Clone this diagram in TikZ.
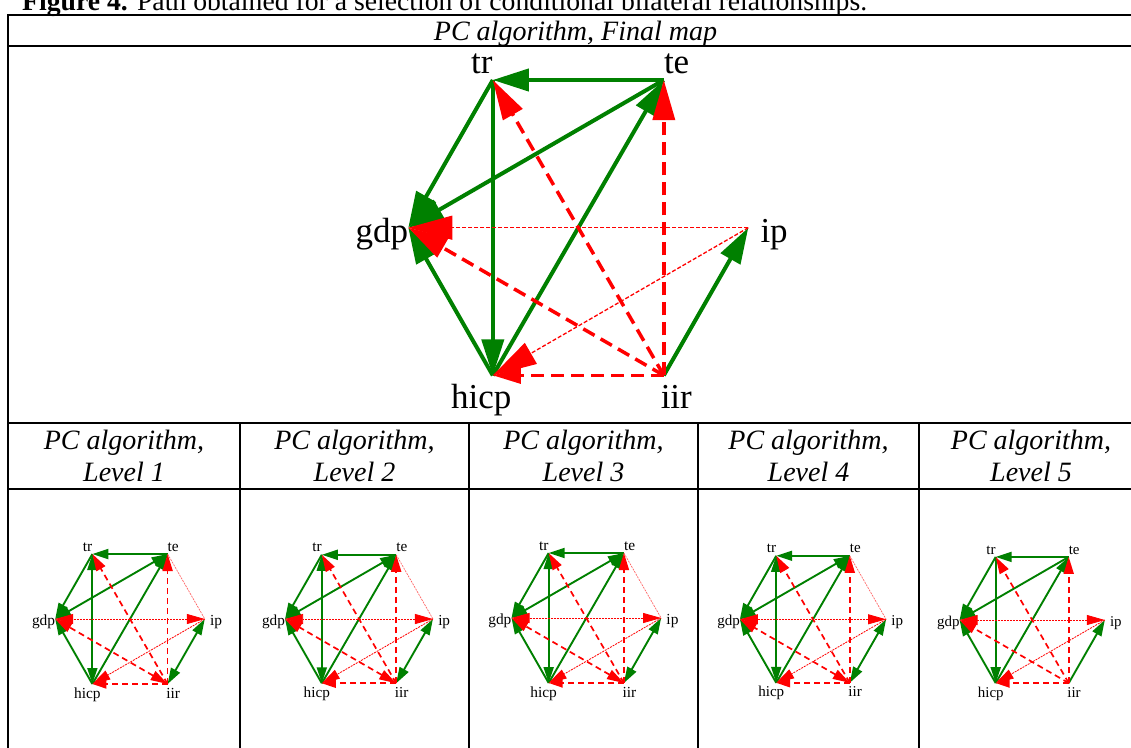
\documentclass[tikz,border=0pt]{standalone}
\usepackage{fontspec}
\setmainfont{Liberation Serif}
\usetikzlibrary{arrows.meta}
\definecolor{pcgreen}{RGB}{0,128,0}
\definecolor{pcred}{RGB}{255,0,0}
\newcommand{\pcnodes}{%
  \coordinate (gdp) at (-170,0);
  \coordinate (tr) at (-85.5,-147.7);
  \coordinate (te) at (85.5,-147.7);
  \coordinate (ip) at (170,0);
  \coordinate (hicp) at (-85.5,147.7);
  \coordinate (iir) at (85.5,147.7);
  \node[lab, anchor=base east] (gdp-l) at (-170,14.3) {gdp};
  \node[lab, anchor=base east] (tr-l) at (-85.5,-154.5) {tr};
  \node[lab, anchor=base west] (te-l) at (85.5,-154.5) {te};
  \node[lab, anchor=base west] (ip-l) at (182,14.3) {ip};
  \node[lab, anchor=base] (hicp-l) at (-97,180.5) {hicp};
  \node[lab, anchor=base] (iir-l) at (98,180.5) {iir};
}
\newcommand{\levelfour}{%
  \draw[ga] (te) -- (tr);
  \draw[ga] (tr) -- (gdp);
  \draw[gb] (te) -- (gdp);
  \draw[gb] (tr) -- (hicp);
  \draw[ga] (hicp) -- (te);
  \draw[ga] (hicp) -- (gdp);
  \draw[gb] (iir) -- (ip);
  \draw[tn] (te) -- (ip);
  \draw[ra] (iir) -- (tr);
  \draw[ra] (iir) -- (te);
  \draw[rb] (iir) -- (gdp);
  \draw[rs] (iir) -- (hicp);
  \draw[tb] (ip) -- (gdp);
  \draw[ta] (ip) -- (hicp);
}
\newcommand{\levelfive}[1]{%
  \draw[ga] (te) -- (tr);
  \draw[ga] (tr) -- (gdp);
  \draw[ga] (te) -- (gdp);
  \draw[ga] (tr) -- (hicp);
  \draw[ga] (hicp) -- (te);
  \draw[ga] (hicp) -- (gdp);
  \draw[ga] (iir) -- (ip);
  \draw[ra] (iir) -- (tr);
  \draw[ra] (iir) -- (te);
  \draw[ra] (iir) -- (gdp);
  \draw[rs] (iir) -- (hicp);
  \draw[#1] (ip) -- (gdp);
  \draw[ta] (ip) -- (hicp);
}
\tikzset{
  tline/.style={line width=2.6pt, line cap=rect},
  hdr/.style={font=\fontsize{28}{32}\selectfont\itshape, inner sep=0pt, anchor=base},
  bigset/.style={
    ga/.style={draw=pcgreen, line width=4pt, -{Triangle[length=36pt,width=22pt]}},
    gb/.style={draw=pcgreen, line width=4pt, {Triangle[length=36pt,width=22pt]}-{Triangle[length=36pt,width=22pt]}},
    ra/.style={draw=pcred, line width=3.5pt, dash pattern=on 13pt off 7pt, -{Triangle[length=40pt,width=22pt]}},
    rs/.style={draw=pcred, line width=3.5pt, dash pattern=on 13pt off 7pt, -{Triangle[length=28pt,width=16pt]}},
    rb/.style={draw=pcred, line width=3.5pt, dash pattern=on 13pt off 7pt, {Triangle[length=40pt,width=22pt]}-{Triangle[length=40pt,width=22pt]}},
    ta/.style={draw=pcred, line width=1.3pt, dash pattern=on 4pt off 2pt, -{Triangle[length=44pt,width=24pt]}},
    tb/.style={draw=pcred, line width=1.3pt, dash pattern=on 4pt off 2pt, {Triangle[length=44pt,width=24pt]}-{Triangle[length=44pt,width=24pt]}},
    tn/.style={draw=pcred, line width=1.2pt, dash pattern=on 4pt off 2pt},
    lab/.style={font=\fontsize{35}{40}\selectfont, inner sep=0pt, transform shape}
  },
  smallset/.style={
    ga/.style={draw=pcgreen, line width=1.9pt, -{Triangle[length=16pt,width=10pt]}},
    gb/.style={draw=pcgreen, line width=1.9pt, {Triangle[length=16pt,width=10pt]}-{Triangle[length=16pt,width=10pt]}},
    ra/.style={draw=pcred, line width=1.7pt, dash pattern=on 6pt off 4pt, -{Triangle[length=17pt,width=10pt]}},
    rs/.style={draw=pcred, line width=1.7pt, dash pattern=on 6pt off 4pt, -{Triangle[length=14pt,width=9pt]}},
    rb/.style={draw=pcred, line width=1.7pt, dash pattern=on 6pt off 4pt, {Triangle[length=17pt,width=10pt]}-{Triangle[length=17pt,width=10pt]}},
    ta/.style={draw=pcred, line width=0.8pt, dash pattern=on 2pt off 1pt, -{Triangle[length=18pt,width=10pt]}},
    tb/.style={draw=pcred, line width=0.8pt, dash pattern=on 2pt off 1pt, {Triangle[length=18pt,width=10pt]}-{Triangle[length=18pt,width=10pt]}},
    tn/.style={draw=pcred!60, line width=0.7pt, dash pattern=on 2pt off 1pt},
    lab/.style={font=\fontsize{35}{40}\selectfont, inner sep=0pt, transform shape}
  }
}
\begin{document}
\begin{tikzpicture}[x=1pt, y=-1pt]
\useasboundingbox (0,0) rectangle (1131,747);
\fill[white] (0,0) rectangle (1131,747);
% caption
\node[font=\fontsize{27.7}{32}\selectfont, inner sep=0pt, anchor=base west] (cap) at (22,10)
  {\textbf{Figure 4.} Path obtained for a selection of conditional bilateral relationships.};
% table rules
\draw[tline] (8,15) -- (1140,15);
\draw[tline] (8,46) -- (1140,46);
\draw[tline] (8,423) -- (1140,423);
\draw[tline] (8,489) -- (1140,489);
\draw[tline] (8,15) -- (8,750);
\foreach \cx in {240,469,698,919} { \draw[tline] (\cx,423) -- (\cx,750); }
% headers
\node[hdr] (h0) at (575.5,40) {PC algorithm, Final map};
\foreach \cx/\n [count=\i] in {124/1,354.5/2,583.5/3,808.5/4,1031/5} {
  \node[hdr] (ha\i) at (\cx,449) {PC algorithm,};
  \node[hdr] (hb\i) at (\cx,481) {Level \n};
}
% final map
\begin{scope}[shift={(578.3,227.7)}, name prefix=F-, bigset]
  \pcnodes
  \levelfive{ta}
\end{scope}
% levels
\begin{scope}[shift={(130,619)}, scale=0.44, name prefix=L1-, smallset]
  \pcnodes \levelfour
\end{scope}
\begin{scope}[shift={(359,619)}, scale=0.435, name prefix=L2-, smallset]
  \pcnodes \levelfour
\end{scope}
\begin{scope}[shift={(586.3,618)}, scale=0.44, name prefix=L3-, smallset]
  \pcnodes \levelfour
\end{scope}
\begin{scope}[shift={(813,619.3)}, scale=0.43, name prefix=L4-, smallset]
  \pcnodes \levelfour
\end{scope}
\begin{scope}[shift={(1032.2,620)}, scale=0.427, name prefix=L5-, smallset]
  \pcnodes \levelfive{tb}
\end{scope}
\end{tikzpicture}
\end{document}
